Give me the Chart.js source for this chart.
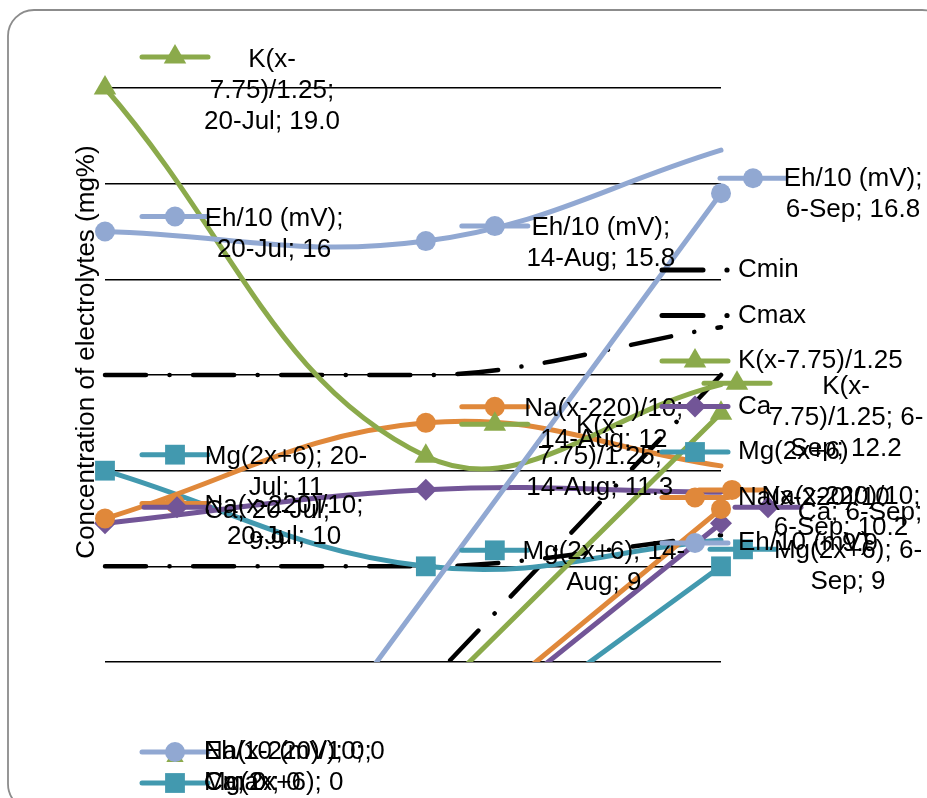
<!DOCTYPE html>
<html>
<head>
<meta charset="utf-8">
<script src="https://cdn.jsdelivr.net/npm/chart.js@4/dist/chart.umd.min.js"></script>
<style>
html,body{margin:0;padding:0;background:#fff;}
canvas{display:block;}
</style>
</head>
<body>
<canvas id="c" width="927" height="798"></canvas>
<script>
// ---------------- DATA ----------------
const dates = ['20-Jul', '14-Aug', '6-Sep'];
const dayOffsets = [0, 25, 48];          // days after 20-Jul
const zeroDay = 2;                       // where the "0" points sit
const yTicks = [7, 9, 11, 13, 15, 17, 19];

const ehValues   = [16, 15.8, 16.8];
const ehCurveEnd = 17.7;
const kValues    = [19.0, 11.3, 12.2];
const kCurveEnd  = 12.8;
const naValues   = [10, 12, 10.2];
const naCurveEnd = 11.1;
const caValues   = [9.9, 10.6, 9.9];
const caCurveEnd = 10.55;
const mgValues   = [11, 9, 9];
const mgCurveEnd = 9.55;
const cmaxValues = [13, 13, 13];
const cmaxCurveEnd = 14.0;
const cminValues = [9, 9, 9];
const cminCurveEnd = 9.65;

// ---------------- SERIES STYLE ----------------
const seriesDefs = {
  Eh:   {name: 'Eh/10 (mV)',      values: ehValues,   end: ehCurveEnd,   color: '#91A8D2', style: 'circle',   r: 10, drop: true},
  K:    {name: 'K(x-7.75)/1.25',  values: kValues,    end: kCurveEnd,    color: '#8BAA4B', style: 'triangle', r: 13, drop: true, dec: 1},
  Na:   {name: 'Na(x-220)/10',    values: naValues,   end: naCurveEnd,   color: '#E0883A', style: 'circle',   r: 10, drop: true},
  Ca:   {name: 'Ca',              values: caValues,   end: caCurveEnd,   color: '#725597', style: 'rectRot',  r: 11, drop: true},
  Mg:   {name: 'Mg(2x+6)',        values: mgValues,   end: mgCurveEnd,   color: '#4299AF', style: 'rect',     r: 14, drop: true},
  Cmax: {name: 'Cmax',            values: cmaxValues, end: cmaxCurveEnd, color: '#000000', style: false,      r: 0,  drop: true,  dash: true},
  Cmin: {name: 'Cmin',            values: cminValues, end: cminCurveEnd, color: '#000000', style: false,      r: 0,  drop: false, dash: true}
};
const order = ['Eh', 'K', 'Na', 'Ca', 'Mg', 'Cmax', 'Cmin'];
const DASH = [41, 23.5, 0.1, 23.5];
const FONT = '26px "Liberation Sans", Arial, sans-serif';

// ---------------- DATASETS ----------------
const datasets = [];
order.forEach(id => {
  const d = seriesDefs[id];
  const common = {
    label: d.name,
    borderColor: d.color,
    backgroundColor: d.color,
    pointBackgroundColor: d.color,
    pointBorderWidth: 0,
    pointStyle: d.style || 'circle',
    borderWidth: d.dash ? 4.5 : 5,
    borderCapStyle: 'round',
    borderJoinStyle: 'round',
    borderDash: d.dash ? DASH : [],
    fill: false,
    clip: {left: 20, top: 20, right: 20, bottom: 0}
  };
  datasets.push(Object.assign({}, common, {
    data: [
      {x: dayOffsets[0], y: d.values[0]},
      {x: dayOffsets[1], y: d.values[1]},
      {x: dayOffsets[2], y: d.end}
    ],
    pointRadius: d.style ? [d.r, d.r, 0] : 0,
    tension: 0.4,
    cubicInterpolationMode: d.dash ? 'monotone' : 'default'
  }));
  if (d.drop) {
    datasets.push(Object.assign({}, common, {
      data: [
        {x: dayOffsets[2], y: d.values[2]},
        {x: zeroDay, y: 0}
      ],
      pointRadius: d.style ? [d.r, 0] : 0,
      tension: 0
    }));
  }
});

// ---------------- LABEL LAYOUT (offsets from the point, px) ----------------
const labelLayout = [
  {s: 'K',  i: 0, cuts: [4, 16], key: [70, -31], text: [167, -28]},
  {s: 'Eh', i: 0, cuts: [11],    key: [70, -15], text: [169, -13]},
  {s: 'Mg', i: 0, cuts: [13],    key: [70, -16], text: [181, -14]},
  {s: 'Na', i: 0, cuts: [13],    key: [70, -15], text: [179, -13]},
  {s: 'Ca', i: 0, cuts: [11],    key: [72, -16], text: [162, -12]},
  {s: 'Eh', i: 1, cuts: [11],    key: [69, -15], text: [175, -13]},
  {s: 'Na', i: 1, cuts: [13],    key: [69, -16], text: [178, -14]},
  {s: 'K',  i: 1, cuts: [4, 16], key: [69, -32], text: [174, -30]},
  {s: 'Mg', i: 1, cuts: [13],    key: [69, -16], text: [178, -15]},
  {s: 'Eh', i: 2, cuts: [11],    key: [32, -15], text: [132, -14]},
  {s: 'K',  i: 2, cuts: [4, 18], key: [16, -30], text: [125, -26]},
  {s: 'Na', i: 2, cuts: [13],    key: [11, -19], text: [120, -12]},
  {s: 'Ca', i: 2, cuts: [10],    key: [47, -16], text: [139, -10]},
  {s: 'Mg', i: 2, cuts: [12],    key: [22, -17], text: [127, -16]}
];
const legendOrder = ['Cmin', 'Cmax', 'K', 'Ca', 'Mg', 'Na', 'Eh'];

function fmt(d, v) { return d.dec ? v.toFixed(d.dec) : String(v); }

function drawMarker(ctx, d, x, y) {
  if (!d.style) return;
  ctx.save();
  ctx.fillStyle = d.color;
  ctx.strokeStyle = d.color;
  Chart.helpers.drawPoint(ctx, {pointStyle: d.style, radius: d.r, rotation: 0, borderWidth: 0}, x, y);
  ctx.restore();
}

function drawKey(ctx, d, cx, cy) {
  ctx.save();
  ctx.strokeStyle = d.color;
  ctx.fillStyle = d.color;
  ctx.lineCap = 'round';
  if (d.dash) {
    ctx.lineWidth = 5;
    ctx.beginPath(); ctx.moveTo(cx - 33, cy); ctx.lineTo(cx + 8, cy); ctx.stroke();
    ctx.beginPath(); ctx.arc(cx + 32, cy, 2.6, 0, Math.PI * 2); ctx.fill();
  } else {
    ctx.lineWidth = 5;
    ctx.beginPath(); ctx.moveTo(cx - 33, cy); ctx.lineTo(cx + 33, cy); ctx.stroke();
  }
  ctx.restore();
  drawMarker(ctx, d, cx, cy);
}

function splitText(str, cuts) {
  const out = [];
  let p = 0;
  cuts.concat([str.length]).forEach(c => { out.push(str.slice(p, c).trim()); p = c; });
  return out;
}

const overlay = {
  id: 'overlay',
  beforeDraw(chart) {
    const ctx = chart.ctx;
    ctx.save();
    ctx.fillStyle = '#fff';
    ctx.fillRect(0, 0, chart.width, chart.height);
    ctx.strokeStyle = '#8c8c8c';
    ctx.lineWidth = 1.8;
    ctx.beginPath();
    ctx.roundRect(8, 10, 940, 800, 26);
    ctx.stroke();
    ctx.restore();
  },
  afterDraw(chart) {
    const ctx = chart.ctx;
    const xs = chart.scales.x, ys = chart.scales.y;
    ctx.save();
    ctx.font = FONT;
    ctx.fillStyle = '#000';

    // axis title
    ctx.save();
    ctx.translate(87, 352);
    ctx.rotate(-Math.PI / 2);
    ctx.textAlign = 'center';
    ctx.textBaseline = 'middle';
    ctx.fillText('Concentration of electrolytes (mg%)', 0, 0);
    ctx.restore();

    // data labels with legend keys
    labelLayout.forEach(L => {
      const d = seriesDefs[L.s];
      const px = xs.getPixelForValue(dayOffsets[L.i]);
      const py = ys.getPixelForValue(d.values[L.i]);
      drawKey(ctx, d, px + L.key[0], py + L.key[1]);
      const full = d.name + '; ' + dates[L.i] + '; ' + fmt(d, d.values[L.i]);
      const lines = splitText(full, L.cuts);
      ctx.fillStyle = '#000';
      ctx.font = FONT;
      ctx.textAlign = 'center';
      ctx.textBaseline = 'middle';
      lines.forEach((ln, k) => ctx.fillText(ln, px + L.text[0], py + L.text[1] + k * 31));
    });

    // legend on the right
    legendOrder.forEach((id, k) => {
      const d = seriesDefs[id];
      const y = 270 + k * 45.5;
      drawKey(ctx, d, 695, y);
      ctx.fillStyle = '#000';
      ctx.font = FONT;
      ctx.textAlign = 'left';
      ctx.textBaseline = 'middle';
      ctx.fillText(d.name, 738, y);
    });

    // labels of the zero points, stacked at the bottom
    ctx.textAlign = 'left';
    ctx.textBaseline = 'middle';
    drawMarker(ctx, Object.assign({}, seriesDefs.K, {r: 10}), 175, 757);
    drawKey(ctx, seriesDefs.Eh, 175, 752);
    drawKey(ctx, seriesDefs.Mg, 175, 783);
    ctx.fillStyle = '#000';
    ctx.font = FONT;
    ['Eh', 'Na'].forEach(id => {
      const d = seriesDefs[id];
      ctx.fillText(d.name + '; 0' + (id === 'Eh' ? ';' : ''), 204, 752);
    });
    ['Mg', 'Ca', 'Cmax'].forEach(id => {
      const d = seriesDefs[id];
      ctx.fillText(d.name + '; 0', 204, 783);
    });
    ctx.restore();
  }
};

new Chart(document.getElementById('c').getContext('2d'), {
  type: 'line',
  data: {datasets},
  options: {
    responsive: false,
    animation: false,
    events: [],
    layout: {padding: {left: 105, top: 88, right: 206, bottom: 136}},
    plugins: {legend: {display: false}, tooltip: {enabled: false}},
    scales: {
      x: {type: 'linear', min: 0, max: 48, display: false},
      y: {
        type: 'linear', min: 7, max: 19,
        afterBuildTicks: s => { s.ticks = yTicks.map(v => ({value: v})); },
        afterFit: s => { s.width = 0; },
        ticks: {display: false},
        grid: {color: '#000', lineWidth: 1.5, drawTicks: false},
        border: {display: false}
      }
    }
  },
  plugins: [overlay]
});
</script>
</body>
</html>
